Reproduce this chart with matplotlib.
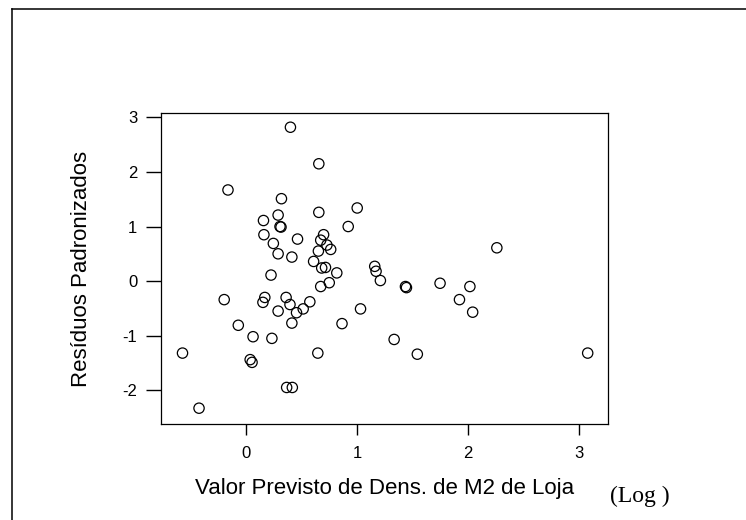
import matplotlib
matplotlib.use('Agg')
import matplotlib.pyplot as plt
from matplotlib.lines import Line2D

# valores
valor_previsto = [0.397, 0.653, -0.166, 0.316, 0.999, 0.653, 0.286, 0.154, 0.303, 0.312,
                  0.918, 0.158, 0.696, 0.461, 0.670, 0.243, 0.726, 0.760, 0.649, 0.286,
                  0.410, 2.258, 0.606, 0.713, 0.679, 1.157, 1.169, 0.815, 0.222, 1.208,
                  0.747, 1.746, 1.434, 1.443, 2.015, 0.670, -0.200, 0.166, 0.149, 0.358,
                  0.393, 0.572, 0.512, 0.452, 0.286, 1.921, 2.040, 1.029, 0.410, -0.073,
                  0.862, 0.060, 0.230, 1.332, -0.576, 0.644, 1.541, 3.077, 0.034, 0.051,
                  0.363, 0.414, -0.427]
residuos = [2.82, 2.15, 1.67, 1.51, 1.34, 1.26, 1.21, 1.11, 1.00, 0.99,
            1.00, 0.85, 0.85, 0.77, 0.75, 0.69, 0.66, 0.58, 0.55, 0.50,
            0.44, 0.61, 0.36, 0.25, 0.24, 0.27, 0.18, 0.15, 0.11, 0.01,
            -0.03, -0.04, -0.10, -0.12, -0.10, -0.10, -0.34, -0.30, -0.39, -0.30,
            -0.43, -0.38, -0.51, -0.58, -0.55, -0.34, -0.57, -0.51, -0.77, -0.81,
            -0.78, -1.02, -1.05, -1.07, -1.32, -1.32, -1.34, -1.32, -1.44, -1.49,
            -1.95, -1.95, -2.33]
xticks = [0, 1, 2, 3]
yticks = [-2, -1, 0, 1, 2, 3]

plt.rcParams['font.family'] = ['Liberation Sans', 'DejaVu Sans']
plt.rcParams['axes.unicode_minus'] = False

fig = plt.figure(figsize=(7.46, 5.2), dpi=100)
ax = fig.add_axes([0.2158, 0.1846, 0.5992, 0.598])

ax.scatter(valor_previsto, residuos, s=55, facecolors='none',
           edgecolors='black', linewidths=0.9)

ax.set_xlim(-0.77, 3.26)
ax.set_ylim(-2.62, 3.08)
ax.set_xticks(xticks)
ax.set_yticks(yticks)
ax.tick_params(axis='x', length=8, width=1, labelsize=12, pad=8)
ax.tick_params(axis='y', length=11, width=1, labelsize=12, pad=6)
for s in ax.spines.values():
    s.set_linewidth(0.9)

ax.set_xlabel('Valor Previsto de Dens. de M2 de Loja', fontsize=16, labelpad=12)
ax.set_ylabel('Resíduos Padronizados', fontsize=16, labelpad=22)
fig.text(0.818, 0.045, '(Log )', family='Liberation Serif', fontsize=17,
         ha='left', va='center')

# moldura externa
fig.add_artist(Line2D([12 / 746, 12 / 746], [0, 1 - 9 / 520], color='black', lw=1.1))
fig.add_artist(Line2D([12 / 746, 1], [1 - 9 / 520, 1 - 9 / 520], color='black', lw=1.1))

fig.savefig('out.png', dpi=100)
